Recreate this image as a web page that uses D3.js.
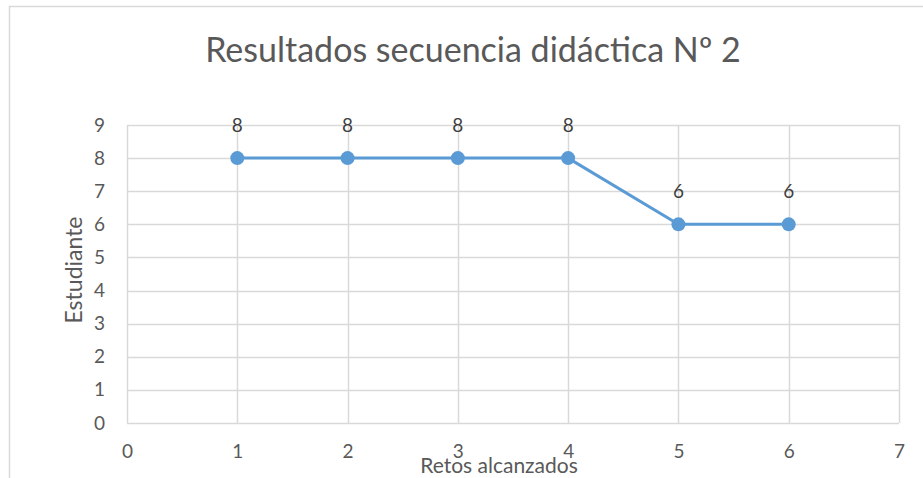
<!DOCTYPE html>
<html>
<head>
<meta charset="utf-8">
<script src="https://cdn.jsdelivr.net/npm/d3@7"></script>
<style>
  body { margin: 0; background: #fff; }
  svg { display: block; font-family: Lato, "Open Sans", sans-serif; }
</style>
</head>
<body>
<svg id="chart"></svg>
<script>
// chart data
var titleText = 'Resultados secuencia didáctica Nº 2';
var xLabel = 'Retos alcanzados';
var yLabel = 'Estudiante';
var retos = [1, 2, 3, 4, 5, 6];
var estudiantes = [8, 8, 8, 8, 6, 6];
var xTicks = [0, 1, 2, 3, 4, 5, 6, 7];
var yTicks = [0, 1, 2, 3, 4, 5, 6, 7, 8, 9];

var width = 923, height = 478;
var plotLeft = 127, plotRight = 899, plotTop = 125, plotBottom = 423;

var svg = d3.select('#chart')
    .attr('width', width)
    .attr('height', height);

svg.append('rect')
    .attr('width', width).attr('height', height)
    .attr('fill', '#fff');

// outer chart frame (runs off the right and bottom edge)
svg.append('rect')
    .attr('x', 9.5).attr('y', 6.5)
    .attr('width', width + 10).attr('height', height + 10)
    .attr('fill', 'none')
    .attr('stroke', '#d9d9d9')
    .attr('stroke-width', 1.5);

var xScale = d3.scaleLinear().domain([0, 7]).range([plotLeft, plotRight]);
var yScale = d3.scaleLinear().domain([0, 9]).range([plotBottom, plotTop]);

// gridlines
svg.append('g').selectAll('line.v')
    .data(xTicks).join('line')
    .attr('x1', d => Math.round(xScale(d)) + 0.5)
    .attr('x2', d => Math.round(xScale(d)) + 0.5)
    .attr('y1', plotTop).attr('y2', plotBottom)
    .attr('stroke', '#d9d9d9').attr('stroke-width', 1.5);

svg.append('g').selectAll('line.h')
    .data(yTicks).join('line')
    .attr('y1', d => Math.round(yScale(d)) + 0.5)
    .attr('y2', d => Math.round(yScale(d)) + 0.5)
    .attr('x1', plotLeft).attr('x2', plotRight)
    .attr('stroke', '#d9d9d9').attr('stroke-width', 1.5);

// axes (text only, Excel style)
var yAxis = d3.axisLeft(yScale).tickValues(yTicks).tickFormat(d => d)
    .tickSize(0).tickPadding(22);
var yAxisG = svg.append('g')
    .attr('transform', `translate(${plotLeft},0)`)
    .call(yAxis);

var xAxis = d3.axisBottom(xScale).tickValues(xTicks).tickFormat(d => d)
    .tickSize(0).tickPadding(22);
var xAxisG = svg.append('g')
    .attr('transform', `translate(0,${plotBottom})`)
    .call(xAxis);

[yAxisG, xAxisG].forEach(function(g){
    g.select('.domain').remove();
    g.selectAll('text')
        .attr('fill', '#595959')
        .style('font-size', '19px')
        .style('font-family', 'Lato, "Open Sans", sans-serif');
});

// data line
var line = d3.line()
    .x((d, i) => xScale(retos[i]))
    .y(d => yScale(d));

svg.append('path')
    .datum(estudiantes)
    .attr('fill', 'none')
    .attr('stroke', '#5b9bd5')
    .attr('stroke-width', 3)
    .attr('stroke-linejoin', 'round')
    .attr('d', line);

svg.append('g').selectAll('circle')
    .data(estudiantes).join('circle')
    .attr('cx', (d, i) => xScale(retos[i]))
    .attr('cy', d => yScale(d))
    .attr('r', 7)
    .attr('fill', '#5b9bd5');

// data labels
svg.append('g').selectAll('text')
    .data(estudiantes).join('text')
    .attr('x', (d, i) => xScale(retos[i]))
    .attr('y', d => yScale(d) - 26)
    .attr('text-anchor', 'middle')
    .attr('fill', '#404040')
    .style('font-size', '19px')
    .text(d => d);

// title
svg.append('text')
    .attr('x', 473).attr('y', 62)
    .attr('text-anchor', 'middle')
    .attr('fill', '#595959')
    .style('font-size', '34px')
    .text(titleText);

// axis titles
svg.append('text')
    .attr('x', 499).attr('y', 473)
    .attr('text-anchor', 'middle')
    .attr('fill', '#595959')
    .style('font-size', '21px')
    .text(xLabel);

svg.append('text')
    .attr('transform', 'translate(82,270) rotate(-90)')
    .attr('text-anchor', 'middle')
    .attr('fill', '#595959')
    .style('font-size', '23px')
    .text(yLabel);
</script>
</body>
</html>
